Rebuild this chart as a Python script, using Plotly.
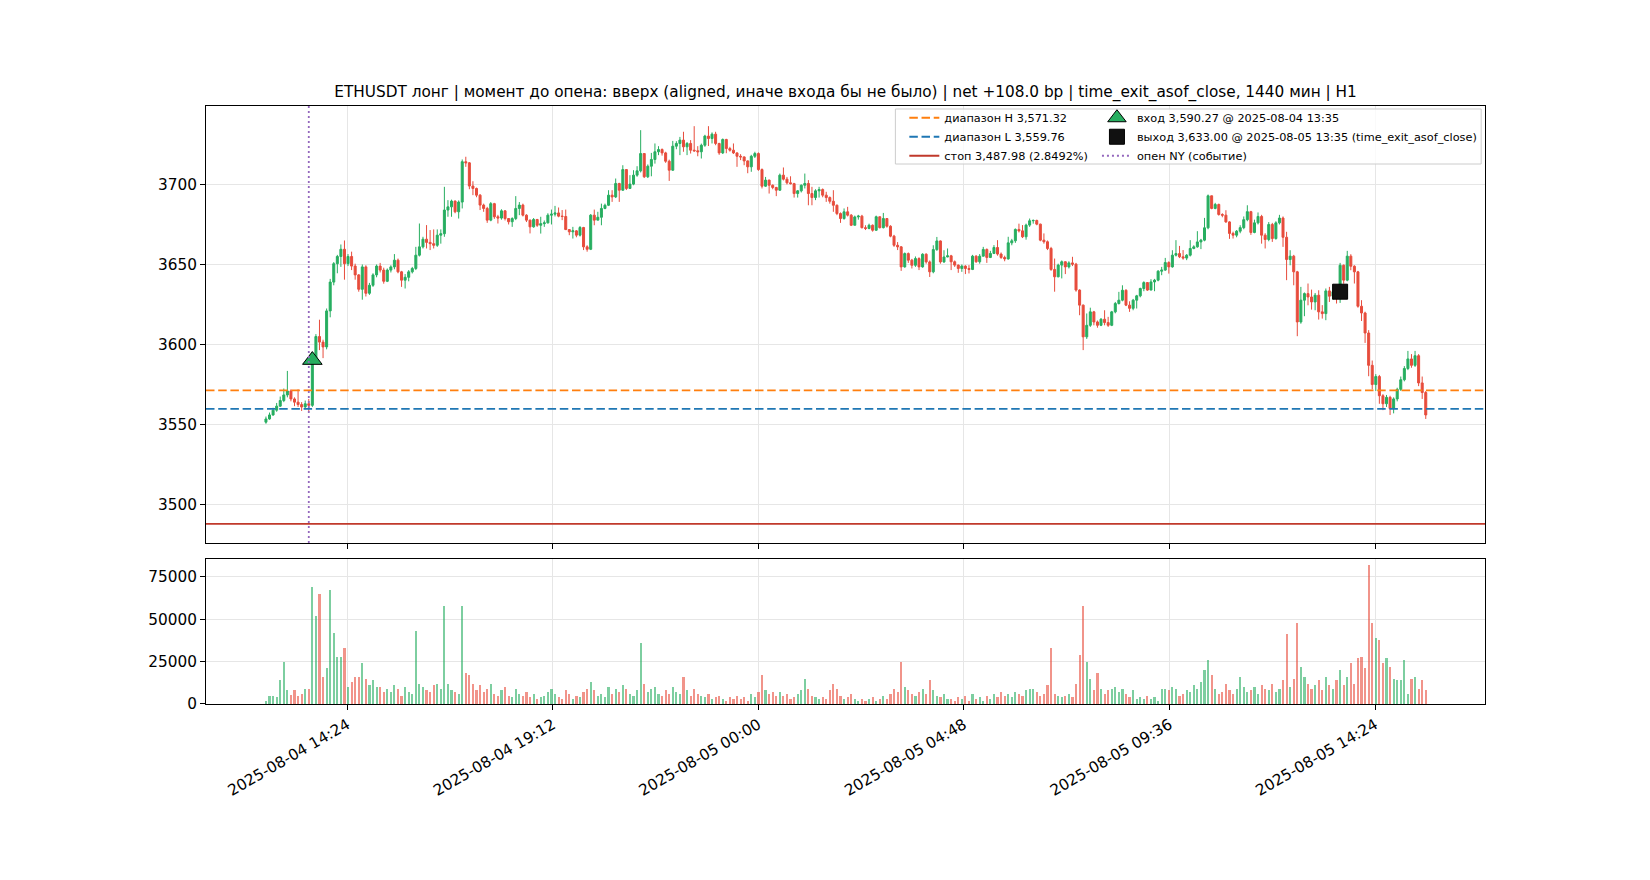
import pandas as pd
import plotly.graph_objects as go

# 5-минутные свечи ETHUSDT, по 12 штук на час
start_time = "2025-08-04 12:30"
first_open = 3551.5

close_px = [
    3553.5, 3556, 3559, 3561.5, 3565, 3568.5, 3571, 3566, 3564, 3562.5, 3561, 3563,
    3562, 3590.3, 3605, 3601.5, 3598.5, 3621, 3639, 3650.5, 3655, 3659.5, 3650.5, 3655,
    3649, 3643.5, 3634.5, 3648.5, 3632, 3637, 3643.5, 3649, 3646.5, 3639.5, 3646.5, 3648.5,
    3652.7, 3645.4, 3640.2, 3642, 3645.4, 3647.5, 3655.8, 3661, 3665.8, 3663.8, 3663, 3662,
    3668.3, 3669.2, 3684, 3686, 3689.6, 3682.9, 3689, 3714.2, 3713.5, 3699, 3697.5, 3693.3,
    3687.1, 3685, 3677.7, 3688, 3679.8, 3679, 3683.5, 3678.7, 3676.7, 3678.7, 3685, 3687.1,
    3680.8, 3677.7, 3673.5, 3678.1, 3674.5, 3675.5, 3676, 3680.8, 3681.4, 3682.2, 3680.2, 3680,
    3671.8, 3670.4, 3671, 3668.3, 3673.1, 3661, 3659.5, 3680.8, 3677.7, 3679.5, 3685, 3687,
    3693.3, 3692.2, 3700.6, 3696.4, 3709.3, 3697.5, 3700.2, 3705.8, 3708.5, 3719.3, 3704.8, 3711.4,
    3715.6, 3720.4, 3721.8, 3719.7, 3714.5, 3708.9, 3723.9, 3725.6, 3727.7, 3723.5, 3725.6, 3721.4,
    3721, 3720.4, 3724.5, 3730.2, 3728.7, 3731.4, 3725.6, 3719.7, 3728.1, 3722.4, 3721.4, 3719.7,
    3717.6, 3717.2, 3714.7, 3711, 3717.6, 3719.3, 3709.3, 3698.9, 3702.7, 3699.5, 3698.1, 3696.4,
    3705.8, 3703.3, 3701, 3700.5, 3694.3, 3696, 3699.5, 3700.6, 3694.3, 3691.8, 3696, 3696.8,
    3693.3, 3691.8, 3689.5, 3687, 3681.8, 3678.7, 3682.9, 3680.8, 3674.5, 3679.7, 3680.2, 3673,
    3672.5, 3674.5, 3671.4, 3679.8, 3673, 3678.7, 3673.9, 3667.7, 3662, 3661, 3648.5, 3656.8,
    3652.7, 3649.5, 3653.7, 3648.5, 3656.4, 3651.6, 3645.4, 3659.3, 3664.7, 3651.6, 3654.7, 3655.4,
    3651.7, 3649.6, 3647.5, 3649, 3647.5, 3646.9, 3655.2, 3651.7, 3655.2, 3659.4, 3654.4, 3656.9,
    3660.6, 3656.5, 3654.4, 3653.5, 3663.5, 3664.8, 3671.9, 3671, 3667.3, 3674.6, 3677.3, 3677.5,
    3675.2, 3665.2, 3664.2, 3660, 3646.9, 3642.3, 3649.6, 3651.7, 3648.5, 3651, 3650.2, 3634,
    3624.6, 3604.8, 3612, 3620.4, 3614.1, 3612, 3615.8, 3613.7, 3612, 3620.4, 3625.6, 3627.7,
    3633.9, 3624.6, 3622.6, 3627.7, 3630.4, 3635, 3638.7, 3634, 3639.1, 3640.2, 3645.8, 3646.5,
    3651.2, 3648.5, 3655.8, 3656.8, 3654.8, 3654, 3655.8, 3660, 3661, 3664.1, 3665.2, 3672.9,
    3692.9, 3685, 3687.5, 3681.2, 3680.8, 3676.6, 3669.4, 3668.3, 3670.8, 3673, 3678, 3683,
    3670, 3676, 3680, 3668.3, 3665.6, 3675, 3666.2, 3676, 3679, 3667, 3653.1, 3655.2,
    3645.4, 3614.1, 3627.7, 3631.8, 3629.7, 3626.6, 3630.8, 3620.4, 3619.3, 3633.5, 3630.2, 3633,
    3630, 3649.5, 3640.2, 3655.2, 3648.9, 3645.4, 3623.9, 3619.7, 3607.2, 3587, 3575, 3580,
    3568, 3563, 3567, 3560, 3566, 3572, 3578, 3585, 3591, 3587, 3593, 3576,
    3570, 3556,
]

high_px = [
    3555, 3557.5, 3560.5, 3563.5, 3567.5, 3572.5, 3583.5, 3572, 3567, 3572, 3564, 3565,
    3566, 3592, 3606.5, 3615.5, 3603, 3622.5, 3641, 3651.5, 3656, 3662.5, 3665, 3656.5,
    3658, 3650.5, 3644, 3650, 3649.5, 3638.5, 3644.5, 3650, 3651, 3648, 3647.5, 3649.5,
    3656.5, 3653.7, 3646, 3644, 3646.5, 3648.5, 3661, 3675.6, 3667.3, 3674.6, 3671.5, 3671.9,
    3671.9, 3671.9, 3698.5, 3690.2, 3690.5, 3690, 3690, 3715.6, 3717.3, 3714, 3702, 3698,
    3694, 3688, 3686, 3689, 3688.5, 3681, 3684.5, 3684, 3679, 3679.5, 3692.7, 3689,
    3688, 3681.4, 3678, 3679, 3678.5, 3679.8, 3677.5, 3682, 3684.3, 3686.6, 3685.6, 3684,
    3684.3, 3672, 3673.5, 3671.5, 3674, 3673.5, 3662, 3681.5, 3684.3, 3682.9, 3688, 3688,
    3696.4, 3696.4, 3703.7, 3701, 3712, 3709.5, 3705.8, 3708.9, 3711.4, 3733.9, 3719.5, 3712.5,
    3719.7, 3725.6, 3723.9, 3722.5, 3720.4, 3715.5, 3727.2, 3727, 3729.7, 3732.9, 3726.5, 3727.7,
    3736.4, 3723.9, 3725.5, 3731, 3736.4, 3732.5, 3732.9, 3726, 3728.7, 3728.5, 3723.5, 3725.6,
    3720, 3718.9, 3717.5, 3715, 3718.5, 3720.4, 3720, 3710, 3704.7, 3703, 3700, 3698.5,
    3706.8, 3710.6, 3704.7, 3705.1, 3701, 3696.5, 3700, 3706.8, 3702.7, 3698.5, 3697, 3698.5,
    3697.5, 3695.4, 3692.5, 3696.4, 3687.5, 3682.5, 3685, 3686, 3681.5, 3680.5, 3681, 3681,
    3674.5, 3675.5, 3675, 3680.5, 3680, 3682.2, 3679, 3674.5, 3668.5, 3664, 3661.5, 3657.5,
    3657.5, 3653.5, 3655, 3654.5, 3657, 3657, 3652.5, 3662, 3667.2, 3665, 3658.9, 3660,
    3656, 3652.5, 3650, 3650, 3649.5, 3649.6, 3656, 3655.8, 3656.5, 3661, 3660, 3658.5,
    3662.1, 3665.2, 3657.5, 3655.5, 3667.3, 3666, 3672.5, 3675.5, 3674.6, 3675.5, 3678.7, 3678.1,
    3678, 3675.5, 3669.4, 3665, 3661, 3653.7, 3650.5, 3652.5, 3652, 3652, 3654.8, 3651,
    3634.5, 3625, 3619.4, 3623, 3621, 3615, 3616.5, 3621.4, 3617.3, 3621, 3626.6, 3632.9,
    3637, 3634.5, 3627, 3628.5, 3631, 3635.5, 3639.5, 3639, 3640.8, 3641, 3646.5, 3648.5,
    3654.1, 3652, 3658.9, 3665.2, 3661.6, 3659, 3656.5, 3665.2, 3662, 3670.8, 3666, 3679.1,
    3693.7, 3693, 3688.5, 3688, 3682, 3683.9, 3677, 3670.5, 3671.5, 3674.5, 3680, 3687,
    3683.5, 3678, 3682.5, 3681, 3669.5, 3676.5, 3676, 3677, 3681, 3680, 3670.4, 3658.9,
    3656, 3646, 3636, 3632.5, 3638.1, 3634.3, 3632.2, 3633.9, 3624.6, 3635, 3636, 3634,
    3634, 3651, 3650, 3658.5, 3656.4, 3649.5, 3646, 3627.7, 3620.5, 3609, 3590, 3581.5,
    3581, 3569, 3568.5, 3568, 3567, 3573, 3580, 3586.5, 3596, 3594, 3596, 3594,
    3580, 3571,
]

low_px = [
    3550.5, 3553, 3555.5, 3558, 3561, 3564, 3567, 3564.5, 3561.5, 3561, 3558.5, 3559.5,
    3558, 3561, 3589, 3596.5, 3591.5, 3597, 3617, 3637, 3644.5, 3648.5, 3640.5, 3649,
    3646.5, 3640.5, 3633, 3628, 3630, 3631, 3636, 3642, 3645, 3638, 3639, 3645,
    3647, 3644.5, 3636, 3635, 3639.5, 3644.4, 3646.5, 3655, 3660, 3660, 3659, 3660,
    3661, 3663, 3667.3, 3679.8, 3679.8, 3682, 3678.7, 3685, 3711, 3697, 3693.3, 3692,
    3684, 3682.9, 3676, 3677, 3678.5, 3675.6, 3678, 3677.5, 3675, 3673.5, 3677.7, 3680.8,
    3680, 3676.5, 3669.4, 3673, 3673.5, 3669.3, 3673.5, 3675.6, 3675, 3680, 3679.5, 3677.7,
    3671.5, 3668.3, 3666.2, 3667, 3667.5, 3659, 3658, 3659, 3674.5, 3677.7, 3674.5, 3684.5,
    3686.5, 3689.1, 3691.5, 3689.1, 3696, 3696.5, 3698, 3699.5, 3704.8, 3707.5, 3704, 3704,
    3705.1, 3713, 3718.3, 3718, 3713.5, 3702.2, 3708.5, 3722, 3718.3, 3720.4, 3718.3, 3719.3,
    3720.4, 3717.6, 3716.2, 3723.5, 3724, 3725.6, 3724.5, 3718.5, 3719, 3719.5, 3720.5, 3719,
    3711, 3715.2, 3712, 3707, 3707.9, 3716.5, 3708.5, 3697.5, 3698.5, 3694.3, 3697, 3692.7,
    3696, 3702.5, 3700, 3700, 3691.8, 3691.8, 3695, 3697.5, 3687, 3687, 3690.2, 3691.8,
    3692, 3689.1, 3688, 3682.9, 3680.8, 3676, 3678, 3680, 3674, 3674.5, 3678, 3672.5,
    3671.5, 3672, 3670.5, 3671, 3672.5, 3672.5, 3673, 3667, 3661, 3659, 3646, 3648,
    3651, 3647.5, 3648.5, 3646.5, 3648, 3650.5, 3642.2, 3644.5, 3658.5, 3650.5, 3651, 3654.5,
    3646.5, 3648.5, 3644.8, 3645.4, 3644, 3644.4, 3646.5, 3651, 3650.5, 3655, 3651, 3654,
    3656.5, 3655.5, 3653.5, 3652, 3653, 3662, 3663.5, 3670, 3666.5, 3665.5, 3673.5, 3675.5,
    3674.5, 3664.5, 3663, 3659, 3646, 3633, 3642, 3641.3, 3644, 3647.5, 3649, 3633,
    3618.3, 3596.5, 3603.5, 3611, 3612, 3610.5, 3611.5, 3612, 3611, 3611.5, 3619.5, 3625,
    3627, 3624, 3620.4, 3621.4, 3622.5, 3629.5, 3633.3, 3633.5, 3634, 3633.3, 3639.5, 3643.3,
    3646, 3644.3, 3648, 3655, 3654, 3653, 3652.7, 3655, 3659.5, 3660.5, 3659.6, 3664.5,
    3672, 3684.5, 3684.5, 3680.5, 3679.5, 3676, 3666, 3666.2, 3667, 3669.5, 3672, 3677,
    3668.5, 3669.5, 3675, 3663, 3660, 3664.5, 3664.1, 3665.5, 3675, 3661, 3640.2, 3649.5,
    3637, 3605.2, 3613, 3617.7, 3624.5, 3621.8, 3621.4, 3615.6, 3616.2, 3615.2, 3626.6, 3628,
    3625.6, 3626, 3638, 3639.5, 3646.4, 3638.1, 3623, 3614.7, 3601, 3580.2, 3572, 3571,
    3563, 3559, 3561, 3556, 3557, 3564.5, 3571, 3577, 3584, 3585.5, 3586, 3574,
    3566, 3553.5,
]

volume = [
    2000, 4500, 5000, 4200, 14000, 25000, 8000, 5500, 8500, 4800, 6000, 9000,
    9000, 69000, 52000, 65000, 16000, 21000, 67000, 42000, 28000, 28000, 33000, 10000,
    13000, 16000, 16000, 24000, 15000, 11000, 14000, 10000, 10000, 7000, 9000, 7000,
    11000, 9000, 5000, 10000, 7000, 6000, 43000, 12000, 10000, 8000, 7000, 11000,
    12000, 9000, 58000, 12000, 8000, 7000, 6000, 58000, 18000, 17000, 12000, 8000,
    11000, 7000, 9000, 12000, 6000, 5000, 8000, 10000, 5000, 4000, 9000, 6000,
    5000, 7000, 4000, 6000, 3000, 4000, 5000, 7000, 9000, 6000, 4000, 3000,
    8000, 6000, 3000, 5000, 4000, 7000, 9000, 13000, 8000, 5000, 6000, 4000,
    10000, 6000, 9000, 7000, 11000, 9000, 6000, 5000, 8000, 36000, 12000, 7000,
    9000, 10000, 6000, 5000, 8000, 6000, 10000, 7000, 6000, 16000, 8000, 5000,
    9000, 6000, 5000, 4000, 6000, 3000, 4000, 5000, 3000, 2000, 4000, 3000,
    5000, 3000, 4000, 2000, 6000, 4000, 7000, 17000, 8000, 6000, 7000, 5000,
    7000, 5000, 6000, 3000, 4000, 6000, 8000, 15000, 9000, 5000, 4000, 3000,
    4000, 3000, 8000, 12000, 9000, 5000, 3000, 4000, 6000, 3000, 2000, 3000,
    2000, 3000, 4000, 2000, 3000, 5000, 3000, 6000, 9000, 7000, 25000, 10000,
    8000, 6000, 5000, 7000, 9000, 6000, 14000, 8000, 5000, 4000, 6000, 3000,
    3000, 2000, 4000, 3000, 5000, 2000, 6000, 3000, 4000, 2000, 5000, 3000,
    6000, 4000, 7000, 5000, 6000, 4000, 7000, 6000, 5000, 8000, 9000, 9000,
    7000, 5000, 6000, 11000, 33000, 6000, 5000, 4000, 5000, 6000, 4000, 12000,
    29000, 58000, 25000, 15000, 8000, 18000, 9000, 6000, 8000, 9000, 10000, 7000,
    9000, 6000, 4000, 8000, 3000, 4000, 3000, 5000, 3000, 4000, 2000, 9000,
    9000, 8000, 10000, 9000, 5000, 6000, 8000, 7000, 11000, 9000, 13000, 20000,
    26000, 17000, 9000, 6000, 7000, 12000, 8000, 6000, 9000, 16000, 10000, 7000,
    8000, 10000, 6000, 11000, 9000, 8000, 12000, 7000, 9000, 14000, 41000, 10000,
    15000, 48000, 22000, 16000, 12000, 9000, 11000, 14000, 8000, 16000, 11000, 9000,
    14000, 20000, 11000, 16000, 24000, 12000, 27000, 28000, 21000, 82000, 48000, 39000,
    38000, 24000, 27000, 22000, 15000, 14000, 14000, 26000, 6000, 15000, 16000, 9000,
    14000, 8000,
]

# уровни сделки
range_high = 3571.32
range_low = 3559.76
stop_price = 3487.98
stop_pct = 2.8492
entry_time = "2025-08-04 13:35"
entry_price = 3590.27
exit_time = "2025-08-05 13:35"
exit_price = 3633.00
ny_open_time = "2025-08-04 13:30"

tick_times = ["2025-08-04 14:24", "2025-08-04 19:12", "2025-08-05 00:00",
              "2025-08-05 04:48", "2025-08-05 09:36", "2025-08-05 14:24"]
price_ticks = [3500, 3550, 3600, 3650, 3700]
volume_ticks = [0, 25000, 50000, 75000]

assert len(close_px) == len(high_px) == len(low_px) == len(volume)

times = pd.date_range(start_time, periods=len(close_px), freq="5min")
open_px = [first_open] + close_px[:-1]
high_px = [max(h, o, c) for h, o, c in zip(high_px, open_px, close_px)]
low_px = [min(l, o, c) for l, o, c in zip(low_px, open_px, close_px)]

GREEN = "#27ae60"
RED = "#e74c3c"
ORANGE = "#ff7f0e"
BLUE = "#1f77b4"
STOP = "#c0392b"
PURPLE = "#9467bd"
GRID = "#e6e6e6"
FONT = "DejaVu Sans"
DASH = "8.5px,3.7px"
DOT = "2px,3px"

vol_colors = ["rgba(39,174,96,0.6)" if c >= o else "rgba(231,76,60,0.6)"
              for o, c in zip(open_px, close_px)]

fig = go.Figure()

fig.add_trace(go.Candlestick(
    x=times, open=open_px, high=high_px, low=low_px, close=close_px,
    increasing=dict(line=dict(color=GREEN, width=1), fillcolor=GREEN),
    decreasing=dict(line=dict(color=RED, width=1), fillcolor=RED),
    whiskerwidth=0, showlegend=False, hoverinfo="skip",
    xaxis="x", yaxis="y",
))

fig.add_trace(go.Bar(
    x=times, y=volume, marker=dict(color=vol_colors, line=dict(width=0)),
    width=5 * 60 * 1000 * 0.6, showlegend=False, hoverinfo="skip",
    xaxis="x2", yaxis="y2",
))

# горизонтальные уровни и линия открытия NY
for level, color, dash in [(range_high, ORANGE, DASH), (range_low, BLUE, DASH), (stop_price, STOP, "solid")]:
    fig.add_shape(type="line", xref="x domain", x0=0, x1=1, yref="y", y0=level, y1=level,
                  line=dict(color=color, dash=dash, width=1.8), layer="above")

fig.add_shape(type="line", xref="x", x0=ny_open_time, x1=ny_open_time,
              yref="y domain", y0=0, y1=1,
              line=dict(color=PURPLE, dash=DOT, width=1.8), layer="above")

fig.add_trace(go.Scatter(
    x=[entry_time], y=[entry_price], mode="markers",
    marker=dict(symbol="triangle-up", size=17, color=GREEN, line=dict(color="black", width=1)),
    name=f"вход {entry_price:,.2f} @ {entry_time}", legend="legend2", hoverinfo="skip",
))
fig.add_trace(go.Scatter(
    x=[exit_time], y=[exit_price], mode="markers",
    marker=dict(symbol="square", size=15, color="#111111", line=dict(color="black", width=1)),
    name=f"выход {exit_price:,.2f} @ {exit_time} (time_exit_asof_close)", legend="legend2",
    hoverinfo="skip",
))

# записи легенды для линий
fig.add_trace(go.Scatter(x=[None], y=[None], mode="lines",
                         line=dict(color=ORANGE, dash=DASH, width=1.8),
                         name=f"диапазон H {range_high:,.2f}", legend="legend"))
fig.add_trace(go.Scatter(x=[None], y=[None], mode="lines",
                         line=dict(color=BLUE, dash=DASH, width=1.8),
                         name=f"диапазон L {range_low:,.2f}", legend="legend"))
fig.add_trace(go.Scatter(x=[None], y=[None], mode="lines",
                         line=dict(color=STOP, width=1.8),
                         name=f"стоп {stop_price:,.2f} ({stop_pct:.4f}%)", legend="legend"))
fig.add_trace(go.Scatter(x=[None], y=[None], mode="lines",
                         line=dict(color=PURPLE, dash=DOT, width=1.8),
                         name="опен NY (событие)", legend="legend2"))

# рамка легенды
fig.add_shape(type="rect", xref="paper", yref="paper", x0=0.539, x1=0.997, y0=0.903, y1=0.995,
              fillcolor="rgba(255,255,255,0.8)", line=dict(color="#cccccc", width=1), layer="above")

axis_common = dict(
    showline=True, linecolor="black", linewidth=1, mirror=True,
    ticks="outside", ticklen=5, tickwidth=1, tickcolor="black",
    showgrid=True, gridcolor=GRID, gridwidth=1, zeroline=False,
    tickfont=dict(family=FONT, size=15.3, color="black"),
)

legend_common = dict(
    xanchor="left", yanchor="top", bgcolor="rgba(0,0,0,0)", borderwidth=0,
    font=dict(family=FONT, size=11.3, color="black"), itemwidth=30,
)

# страница сдвинута на 8px (поле body), поэтому поля уменьшены на 8px слева и сверху
fig.update_layout(
    width=1650, height=880,
    margin=dict(l=198, r=173, t=98, b=184),
    paper_bgcolor="white", plot_bgcolor="white",
    font=dict(family=FONT, size=15.3, color="black"),
    title=dict(
        text="ETHUSDT лонг | момент до опена: вверх (aligned, иначе входа бы не было) | "
             "net +108.0 bp | time_exit_asof_close, 1440 мин | H1",
        x=0.5, xref="paper", xanchor="center", y=1 - 83.6 / 880, yref="container",
        yanchor="middle", font=dict(family=FONT, size=15.3, color="black"),
    ),
    xaxis=dict(domain=[0, 1], anchor="y", range=["2025-08-04 11:06", "2025-08-05 16:58"],
               tickvals=tick_times, showticklabels=False,
               rangeslider=dict(visible=False), **axis_common),
    yaxis=dict(domain=[0.2692, 1], anchor="x", range=[3476, 3749], tickvals=price_ticks,
               **axis_common),
    xaxis2=dict(domain=[0, 1], anchor="y2", matches="x", tickvals=tick_times,
                ticktext=tick_times, tickangle=-30, **axis_common),
    yaxis2=dict(domain=[0, 0.2425], anchor="x2", range=[0, 85500], tickvals=volume_ticks,
                tickformat="d", **axis_common),
    legend=dict(x=0.546, y=1.0046, **legend_common),
    legend2=dict(x=0.6966, y=1.0046, **legend_common),
    showlegend=True,
    boxgap=0.2,
    bargap=0,
)

fig.write_html("out.html")
